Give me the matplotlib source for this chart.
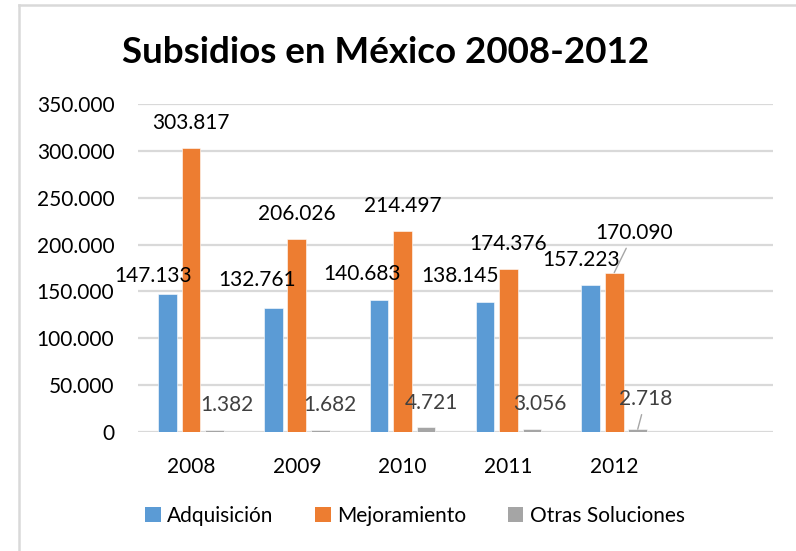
import matplotlib
matplotlib.use("Agg")
import matplotlib.pyplot as plt
from matplotlib.patches import Patch
from matplotlib.lines import Line2D
import numpy as np

# ---- data ----
years = ["2008", "2009", "2010", "2011", "2012", ""]
adquisicion = [147.133, 132.761, 140.683, 138.145, 157.223]
mejoramiento = [303.817, 206.026, 214.497, 174.376, 170.090]
otras = [1.382, 1.682, 4.721, 3.056, 2.718]
series_names = ["Adquisición", "Mejoramiento", "Otras Soluciones"]
yticks = [0, 50, 100, 150, 200, 250, 300, 350]
ytick_labels = ["0", "50.000", "100.000", "150.000", "200.000", "250.000", "300.000", "350.000"]
title = "Subsidios en México 2008-2012"

# ---- styling / layout ----
colors = ["#5B9BD5", "#ED7D31", "#A5A5A5"]
FONT = "Lato"
plt.rcParams["font.family"] = [FONT, "DejaVu Sans"]

W, H = 796, 551
fig = plt.figure(figsize=(W / 100, H / 100), dpi=100)
ax_l, ax_r, ax_t, ax_b = 138, 773, 104.3, 431.7
ax = fig.add_axes([ax_l / W, 1 - ax_b / H, (ax_r - ax_l) / W, (ax_b - ax_t) / H])

x = np.arange(len(adquisicion))
bar_w = 0.175
step = 0.222
all_series = [adquisicion, mejoramiento, otras]
for i, (vals, c) in enumerate(zip(all_series, colors)):
    ax.bar(x + (i - 1) * step, vals, width=bar_w, color=c, edgecolor="white",
           linewidth=0.4, zorder=3)

ax.set_xlim(-0.5, len(years) - 0.5)
ax.set_ylim(0, 350)
ax.set_xticks(np.arange(len(years)))
ax.set_xticklabels(years)
ax.set_yticks(yticks)
ax.set_yticklabels(ytick_labels)
ax.tick_params(axis="both", length=0, labelsize=15, colors="#000000")
ax.tick_params(axis="x", pad=18)
ax.tick_params(axis="y", pad=17)
ax.grid(axis="y", color="#D9D9D9", linewidth=1.6, zorder=0)
for s in ["top", "right", "left", "bottom"]:
    ax.spines[s].set_visible(False)
ax.set_axisbelow(True)

# data label offsets in pixels (label center relative to bar top center)
label_offsets = [
    [(-14.5, 18), (-16, 27.5), (-17, 26), (-25, 26), (-10, 24.6)],
    [(0, 25), (0, 25), (0, 25), (0, 25), (19.5, 39.6)],
    [(12, 25), (10, 25), (5.7, 24), (8, 25), (8, 30)],
]
label_colors = ["#000000", "#000000", "#404040"]
leader = [[False] * 5, [False, False, False, False, True], [False, False, False, False, True]]

for i, vals in enumerate(all_series):
    for j, v in enumerate(vals):
        txt = f"{v:.3f}"
        dx, dy = label_offsets[i][j]
        kw = {}
        if leader[i][j]:
            kw["arrowprops"] = dict(arrowstyle="-", color="#A6A6A6", lw=1.0,
                                    shrinkA=2, shrinkB=0)
        ax.annotate(txt, xy=(x[j] + (i - 1) * step, v), xytext=(dx, dy),
                    textcoords="offset pixels", ha="center", va="center",
                    fontsize=15, color=label_colors[i], zorder=5, **kw)

fig.text(386 / W, 1 - 53 / H, title, ha="center", va="center",
         fontsize=26.5, fontweight="bold", color="#000000")

handles = [Patch(facecolor=c, edgecolor="none") for c in colors]
fig.legend(handles, series_names, loc="center", bbox_to_anchor=(415 / W, 1 - 516 / H),
           ncol=3, frameon=False, fontsize=15, handlelength=0.75, handleheight=0.75,
           handletextpad=0.3, columnspacing=2.0, borderaxespad=0)

# chart frame (only left and top edges visible)
fig.add_artist(Line2D([19 / W, 19 / W], [0, 1 - 5 / H], color="#D9D9D9", lw=1.8,
                      transform=fig.transFigure))
fig.add_artist(Line2D([19 / W, 1], [1 - 5 / H, 1 - 5 / H], color="#D9D9D9", lw=1.8,
                      transform=fig.transFigure))

fig.savefig("out.png", dpi=100)
